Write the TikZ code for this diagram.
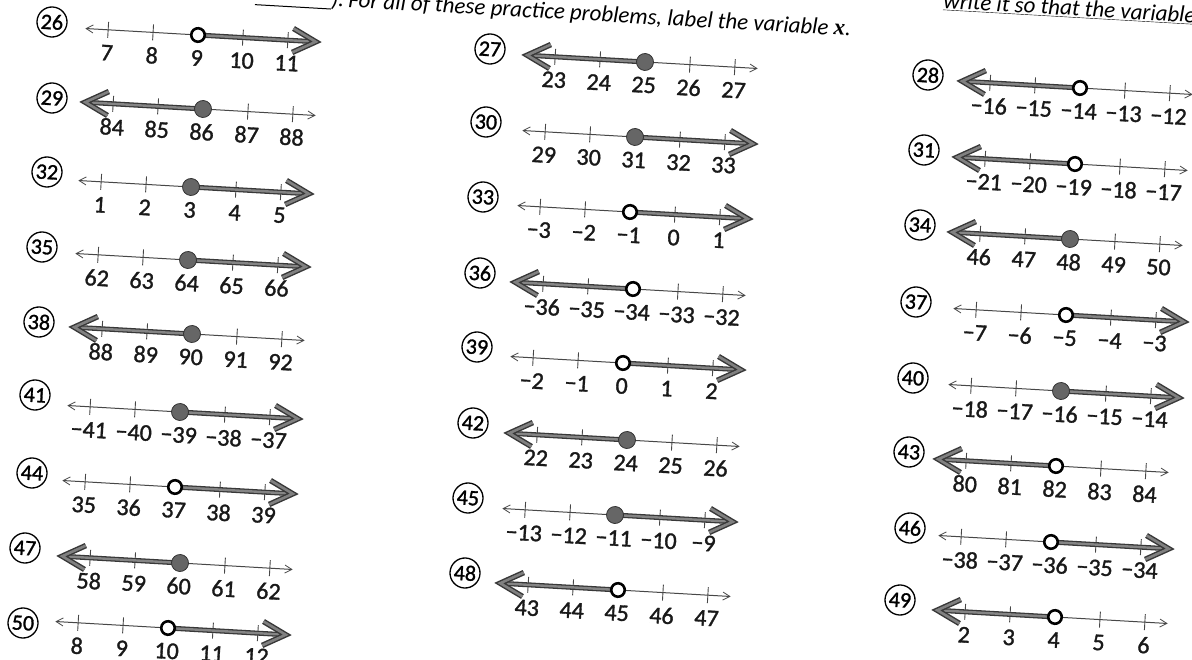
\documentclass[tikz,border=0pt]{standalone}
\usepackage{fontspec}
\setmainfont{Carlito}
\newfontfamily\labfont{Carlito}[FakeBold=1.3]
\newfontfamily\serifx{Liberation Serif}
\newcommand\numline[7]{%
  \node[qnum] (q#1) at (#2) {#3};
  \begin{scope}[shift={(#4)}, rotate=-3.3, transform shape]
    \foreach \lab [count=\i] in {#5} {%
      \pgfmathsetmacro\tx{(\i-3)*45}
      \draw[tickmark] (\tx,-8) -- (\tx,8);
      \node[lab] (l#1-\i) at (\tx,23) {\lab};}
    \if#6R
      \draw[thinline] (0,0) -- (-112,0);
      \draw[thinhead] (-105,-4) -- (-112,0) -- (-105,4);
      \draw[thickline] (0,0) -- (114,0);
      \draw[thickline,thickin] (0,0) -- (114,0);
      \draw[chevron] (95,-12) -- (118,0) -- (95,12);
      \draw[chevron,chevin] (95,-12) -- (118,0) -- (95,12);
    \else
      \draw[thinline] (0,0) -- (112,0);
      \draw[thinhead] (105,-4) -- (112,0) -- (105,4);
      \draw[thickline] (0,0) -- (-114,0);
      \draw[thickline,thickin] (0,0) -- (-114,0);
      \draw[chevron] (-95,-12) -- (-118,0) -- (-95,12);
      \draw[chevron,chevin] (-95,-12) -- (-118,0) -- (-95,12);
    \fi
    \node[#7] (d#1) at (0,0) {};
  \end{scope}}
\begin{document}
\begin{tikzpicture}[x=1pt,y=-1pt,
  qnum/.style={circle,draw=black,line width=1.3pt,minimum size=30pt,inner sep=0pt,rotate=-3.3,font=\labfont\fontsize{22}{22}\selectfont},
  lab/.style={font=\labfont\fontsize{24}{24}\selectfont,inner sep=0pt,text=black!90},
  tickmark/.style={draw=black!72,line width=0.9pt},
  thinline/.style={draw=black!72,line width=1pt},
  thinhead/.style={draw=black!72,line width=0.8pt},
  thickline/.style={draw=black!78,line width=5pt},
  thickin/.style={draw=black!48,line width=2.4pt},
  chevron/.style={draw=black!78,line width=5.5pt,line join=miter},
  chevin/.style={draw=black!50,line width=2.6pt},
  filleddot/.style={circle,fill=black!60,draw=black!80,line width=0.8pt,minimum size=17pt,inner sep=0pt},
  opendot/.style={circle,fill=white,draw=black,line width=2.6pt,minimum size=13.5pt,inner sep=0pt},
  hdr/.style={font=\fontsize{23}{23}\selectfont\itshape,inner sep=0pt,anchor=base west}
]
\fill[white] (0,0) rectangle (1192,660);
\useasboundingbox (0,0) rectangle (1192,660);
\clip (0,0) rectangle (1192,660);

% header
\begin{scope}[shift={(348,7)}, rotate=-3.3, transform shape]
  \node[hdr] (hdrB) at (0,0) {For all of these practice problems, label the variable {\serifx\bfseries\itshape x}.};
  \node[hdr,anchor=base east] (hdrP) at (-4,0) {).};
  \draw[black,line width=1pt] (-93,3) -- (-17,3);
  \node[hdr] (hdrA) at (594,-33) {\underline{write it so that the variable}};
\end{scope}

% column 1
\numline{26}{52,22}{26}{198,35}{7,8,9,10,11}{R}{opendot}
\numline{29}{52,98}{29}{203,109}{84,85,86,87,88}{L}{filleddot}
\numline{32}{47,172}{32}{191,187}{1,2,3,4,5}{R}{filleddot}
\numline{35}{42,247}{35}{188,260}{62,63,64,65,66}{R}{filleddot}
\numline{38}{39,322}{38}{192,334}{88,89,90,91,92}{L}{filleddot}
\numline{41}{35,395}{41}{180,412}{−41,−40,−39,−38,−37}{R}{filleddot}
\numline{44}{32,473}{44}{175,487}{35,36,37,38,39}{R}{opendot}
\numline{47}{25,548}{47}{180,563}{58,59,60,61,62}{L}{filleddot}
\numline{50}{23,623}{50}{168,628}{8,9,10,11,12}{R}{opendot}
% column 2
\numline{27}{490,49}{27}{645,62}{23,24,25,26,27}{L}{filleddot}
\numline{30}{486,122}{30}{635,137}{29,30,31,32,33}{R}{filleddot}
\numline{33}{483,197}{33}{630,212}{−3,−2,−1,0,1}{R}{opendot}
\numline{36}{480,273}{36}{633,289}{−36,−35,−34,−33,−32}{L}{opendot}
\numline{39}{477,347}{39}{623,363}{−2,−1,0,1,2}{R}{opendot}
\numline{42}{473,423}{42}{627,440}{22,23,24,25,26}{L}{filleddot}
\numline{45}{468,498}{45}{615,515}{−13,−12,−11,−10,−9}{R}{filleddot}
\numline{48}{465,573}{48}{618,590}{43,44,45,46,47}{L}{opendot}
% column 3
\numline{28}{928,75}{28}{1080,88}{−16,−15,−14,−13,−12}{L}{opendot}
\numline{31}{924,150}{31}{1075,164}{−21,−20,−19,−18,−17}{L}{opendot}
\numline{34}{920,225}{34}{1070,239}{46,47,48,49,50}{L}{filleddot}
\numline{37}{916,302}{37}{1066,315}{−7,−6,−5,−4,−3}{R}{opendot}
\numline{40}{913,378}{40}{1061,391}{−18,−17,−16,−15,−14}{R}{filleddot}
\numline{43}{909,452}{43}{1056,466}{80,81,82,83,84}{L}{opendot}
\numline{46}{910,528}{46}{1051,542}{−38,−37,−36,−35,−34}{R}{opendot}
\numline{49}{900,600}{49}{1055,617}{2,3,4,5,6}{L}{opendot}
\end{tikzpicture}
\end{document}
